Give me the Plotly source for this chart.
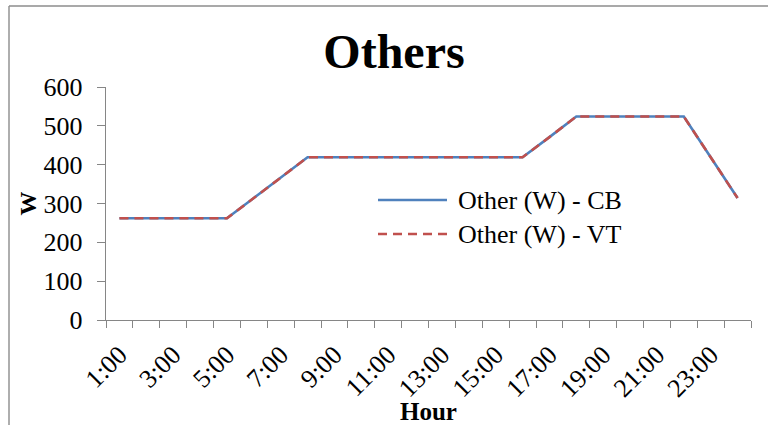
import plotly.graph_objects as go

# Hourly power draw of "other" loads under the two schemes
hours = ["1:00", "2:00", "3:00", "4:00", "5:00", "6:00", "7:00", "8:00",
         "9:00", "10:00", "11:00", "12:00", "13:00", "14:00", "15:00", "16:00",
         "17:00", "18:00", "19:00", "20:00", "21:00", "22:00", "23:00", "24:00"]
other_cb = [262, 262, 262, 262, 262, 314, 367, 419, 419, 419, 419, 419,
            419, 419, 419, 419, 471, 524, 524, 524, 524, 524, 419, 314]
other_vt = [262, 262, 262, 262, 262, 314, 367, 419, 419, 419, 419, 419,
            419, 419, 419, 419, 471, 524, 524, 524, 524, 524, 419, 314]
series_names = ["Other (W) - CB", "Other (W) - VT"]
y_ticks = [0, 100, 200, 300, 400, 500, 600]

BLUE = "#4F81BD"
RED = "#C0504D"
AXIS = "#868686"
FONT = "Liberation Serif"
RED_DASH = "9px,6px"

x_pos = list(range(1, len(hours) + 1))
label_pos = x_pos[::2]
label_txt = hours[::2]

fig = go.Figure()
fig.add_trace(go.Scatter(x=x_pos, y=other_cb, mode="lines", name=series_names[0],
                         line=dict(color=BLUE, width=2.6), showlegend=False))
fig.add_trace(go.Scatter(x=x_pos, y=other_vt, mode="lines", name=series_names[1],
                         line=dict(color=RED, width=2.6, dash=RED_DASH), showlegend=False))

W, H = 768, 425
ml, mr, mt, mb = 106, 17, 87, 105
pw, ph = W - ml - mr, H - mt - mb


def px_x(px):
    return (px - ml) / pw


def px_y(py):
    return (H - mb - py) / ph


# Legend drawn as sample lines with text beside them
shapes = []
annotations = []
for name, color, dash, row_y in [(series_names[0], BLUE, "solid", 200),
                                 (series_names[1], RED, RED_DASH, 234)]:
    shapes.append(dict(type="line", xref="paper", yref="paper",
                       x0=px_x(378), x1=px_x(447), y0=px_y(row_y), y1=px_y(row_y),
                       line=dict(color=color, width=2.6, dash=dash)))
    annotations.append(dict(text=name, xref="paper", yref="paper",
                            x=px_x(456), y=px_y(row_y), xanchor="left", yanchor="middle",
                            showarrow=False, font=dict(family=FONT, size=26, color="black")))

# Chart-area frame: left and top edges only
frame = dict(color="#8C8C8C", width=1.4)
shapes.append(dict(type="line", xref="paper", yref="paper", layer="below",
                   x0=px_x(9), x1=px_x(9), y0=px_y(6), y1=px_y(H + 5), line=frame))
shapes.append(dict(type="line", xref="paper", yref="paper", layer="below",
                   x0=px_x(9), x1=px_x(W + 5), y0=px_y(6), y1=px_y(6), line=frame))

fig.update_layout(
    width=W, height=H,
    margin=dict(l=ml, r=mr, t=mt, b=mb, autoexpand=False),
    paper_bgcolor="white", plot_bgcolor="white",
    font=dict(family=FONT, size=26, color="black"),
    title=dict(text="Others", x=394 / W, xref="container", xanchor="center",
               y=1 - 51 / H, yref="container", yanchor="middle",
               font=dict(family=FONT, size=48, color="black", weight="bold")),
    shapes=shapes,
    annotations=annotations,
    showlegend=False,
)

fig.update_xaxes(
    range=[0.5, len(hours) + 0.5],
    tickmode="array", tickvals=label_pos, ticktext=label_txt,
    ticks="", tickangle=-45, ticklabelstandoff=8,
    tickfont=dict(family=FONT, size=26, color="black"),
    showline=True, linecolor=AXIS, linewidth=1.4,
    showgrid=False, zeroline=False,
    minor=dict(tickmode="array", tickvals=[p - 0.5 for p in x_pos] + [x_pos[-1] + 0.5],
               ticks="outside", ticklen=7, tickwidth=1.4, tickcolor=AXIS, showgrid=False),
    title=dict(text="Hour", standoff=0,
               font=dict(family=FONT, size=25, color="black", weight="bold")),
)

fig.update_yaxes(
    range=[0, 600],
    tickmode="array", tickvals=y_ticks,
    ticks="outside", ticklen=8, tickwidth=1.4, tickcolor=AXIS,
    ticklabelstandoff=9,
    tickfont=dict(family=FONT, size=26, color="black"),
    showline=True, linecolor=AXIS, linewidth=1.4,
    showgrid=False, zeroline=False,
    title=dict(text="W", standoff=0,
               font=dict(family=FONT, size=24, color="black", weight="bold")),
)

fig.write_html("out.html")
